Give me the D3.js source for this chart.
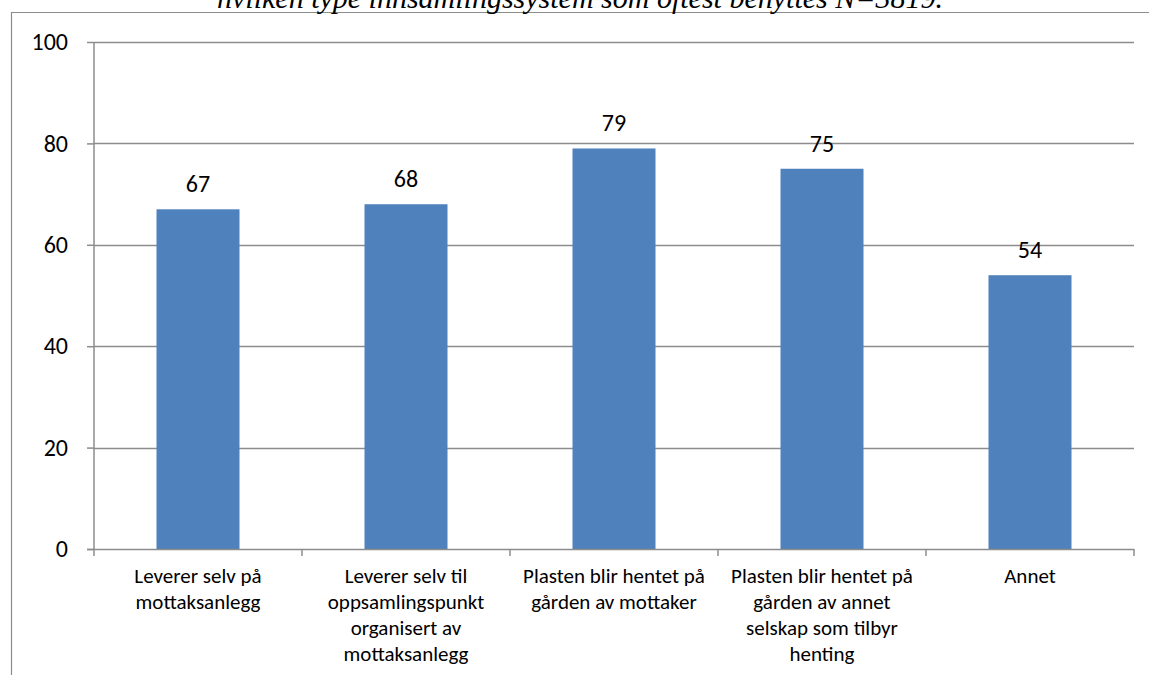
<!DOCTYPE html>
<html><head><meta charset="utf-8">
<script src="https://cdn.jsdelivr.net/npm/d3@7"></script>
<style>body{margin:0;background:#fff}svg{display:block}</style>
</head><body>
<svg id="c" width="1149" height="675"></svg>
<script>
const categories = [
  ["Leverer selv på","mottaksanlegg"],
  ["Leverer selv til","oppsamlingspunkt","organisert av","mottaksanlegg"],
  ["Plasten blir hentet på","gården av mottaker"],
  ["Plasten blir hentet på","gården av annet","selskap som tilbyr","henting"],
  ["Annet"]
];
const values = [67, 68, 79, 75, 54];
const yTicks = [0, 20, 40, 60, 80, 100];
const title = "hvilken type innsamlingssystem som oftest benyttes N=3819.";

const svg = d3.select("#c");
const pL = 94, pR = 1134, pT = 42, pB = 549;
const font = "Carlito, Calibri, Lato, sans-serif";

// outer frame
svg.append("path").attr("d","M11.5,675 V12.5 H1149").attr("fill","none").attr("stroke","#8c8c8c").attr("stroke-width",1.2);

svg.append("text").attr("x",580).attr("y",8).attr("text-anchor","middle")
  .attr("font-family","'Liberation Serif', serif").attr("font-style","italic").attr("font-size",30)
  .text(title);

const xb = d3.scaleBand().domain(d3.range(categories.length)).range([pL,pR]);
const y = d3.scaleLinear().domain([0,100]).range([pB,pT]);

// gridlines
svg.append("g").selectAll("line").data(yTicks.filter(d=>d>0)).join("line")
  .attr("x1",pL).attr("x2",pR).attr("y1",d=>Math.round(y(d))+0.5).attr("y2",d=>Math.round(y(d))+0.5)
  .attr("stroke","#8c8c8c").attr("stroke-width",1.5);

// y axis
const ya = svg.append("g").attr("transform",`translate(${pL},0)`)
  .call(d3.axisLeft(y).tickValues(yTicks).tickSize(7).tickPadding(19));
ya.select(".domain").attr("stroke","#8c8c8c").attr("stroke-width",1.5).attr("d",`M0,${pT}V${pB}`);
ya.selectAll(".tick line").attr("stroke","#8c8c8c").attr("stroke-width",1.5);
ya.selectAll(".tick text").attr("font-family",font).attr("font-size",24).attr("fill","#000");

// bars
const bw = 83;
svg.append("g").selectAll("rect").data(values).join("rect")
  .attr("x",(d,i)=>xb(i)+xb.bandwidth()/2-bw/2).attr("width",bw)
  .attr("y",d=>y(d)).attr("height",d=>y(0)-y(d))
  .attr("fill","#4f81bd");

// x axis
svg.append("line").attr("x1",pL-7).attr("x2",pR).attr("y1",pB+0.5).attr("y2",pB+0.5)
  .attr("stroke","#8c8c8c").attr("stroke-width",1.5);
svg.append("g").selectAll("line").data(d3.range(categories.length+1)).join("line")
  .attr("x1",i=>pL+i*xb.bandwidth()).attr("x2",i=>pL+i*xb.bandwidth())
  .attr("y1",pB).attr("y2",pB+7).attr("stroke","#8c8c8c").attr("stroke-width",1.5);

// value labels
svg.append("g").selectAll("text").data(values).join("text")
  .attr("x",(d,i)=>xb(i)+xb.bandwidth()/2).attr("y",d=>y(d)-17)
  .attr("text-anchor","middle").attr("font-family",font).attr("font-size",24).text(d=>d);

// category labels
const cl = svg.append("g").selectAll("text").data(categories).join("text")
  .attr("x",(d,i)=>xb(i)+xb.bandwidth()/2).attr("y",583)
  .attr("text-anchor","middle").attr("font-family",font).attr("font-size",21);
cl.selectAll("tspan").data(d=>d).join("tspan")
  .attr("x",function(){return this.parentNode.getAttribute("x");})
  .attr("dy",(d,i)=>i===0?0:26).text(d=>d);
</script>
</body></html>
